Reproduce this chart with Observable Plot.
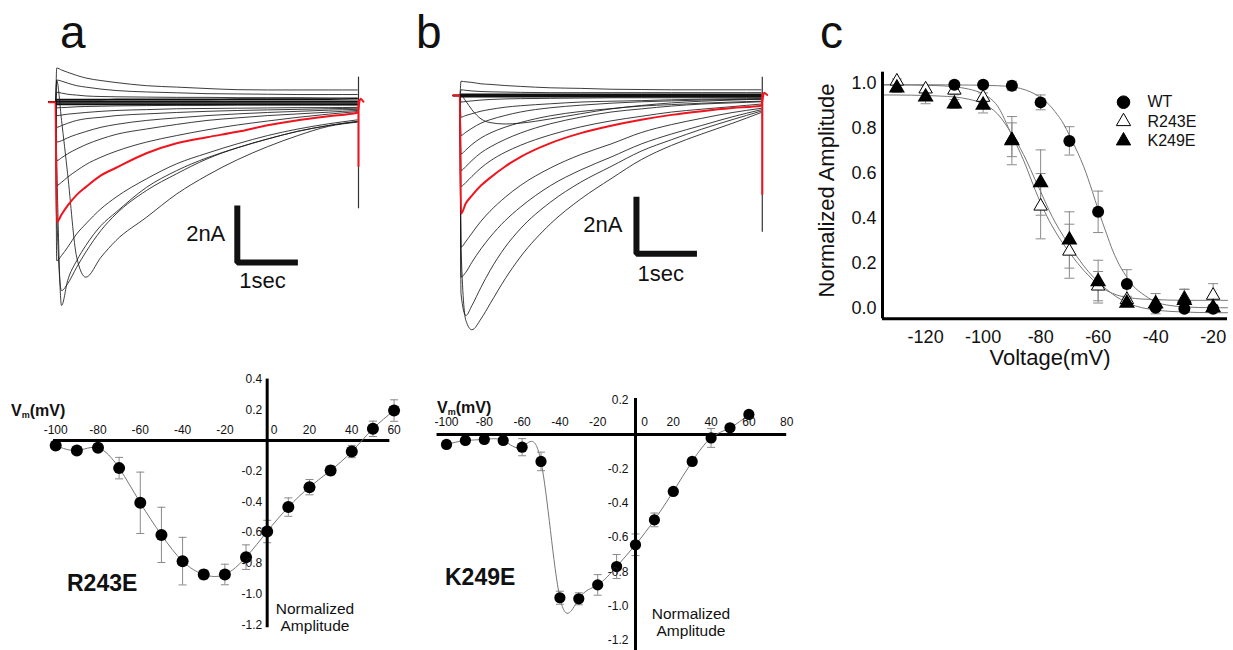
<!DOCTYPE html>
<html><head><meta charset="utf-8">
<script src="https://cdn.jsdelivr.net/npm/d3@7"></script>
<script src="https://cdn.jsdelivr.net/npm/@observablehq/plot@0.6"></script>
<style>
body{margin:0;background:#fff;}
#fig{position:relative;width:1233px;height:650px;overflow:hidden;background:#fff;font-family:"Liberation Sans",Arial,Helvetica,sans-serif;color:#111;}
#fig svg{position:absolute;overflow:visible;background:transparent;max-width:none;}
.lbl{position:absolute;white-space:nowrap;}
.letter{font-size:46px;line-height:46px;}
.vm{font-weight:bold;font-size:16px;line-height:18px;}
.vm sub{font-size:9px;vertical-align:-2px;}
.mut{font-weight:bold;font-size:23px;line-height:23px;}
.na{font-size:15.5px;line-height:16.7px;text-align:center;width:120px;}
</style></head><body><div id="fig"></div>
<script>
const fontStack = '"Liberation Sans", Arial, Helvetica, sans-serif';

// ---------------- Panels a & b : current traces (nA vs s) ----------------
const traceTimes = [0.02,0.1,0.2,0.35,0.5,0.75,1,1.5,2,2.5,3,3.5,4,4.5,4.98];
const preStepTimes = [-0.11, 0];
const holdingCurrent = 0;
const redTailTimes = [5.03, 5.08];
const stepEndTime = 5.0;

const aBlackTraces = [
  [1.20,1.13,1.05,0.94,0.85,0.76,0.69,0.58,0.53,0.48,0.44,0.43,0.43,0.43,0.43],
  [0.78,0.74,0.67,0.58,0.53,0.46,0.41,0.36,0.33,0.30,0.29,0.28,0.27,0.27,0.27],
  [0.35,0.32,0.28,0.25,0.22,0.20,0.19,0.18,0.17,0.17,0.16,0.16,0.16,0.15,0.15],
  [-0.20,-0.19,-0.18,-0.16,-0.15,-0.14,-0.13,-0.12,-0.11,-0.11,-0.10,-0.10,-0.10,-0.10,-0.10],
  [-0.47,-0.45,-0.42,-0.39,-0.36,-0.32,-0.29,-0.26,-0.23,-0.22,-0.21,-0.20,-0.19,-0.19,-0.18],
  [-0.88,-0.82,-0.74,-0.64,-0.58,-0.53,-0.47,-0.41,-0.36,-0.32,-0.29,-0.27,-0.25,-0.23,-0.21],
  [-1.40,-1.35,-1.25,-1.13,-1.03,-0.88,-0.78,-0.64,-0.55,-0.47,-0.41,-0.36,-0.32,-0.28,-0.25],
  [-2.05,-1.95,-1.81,-1.64,-1.49,-1.29,-1.13,-0.94,-0.78,-0.64,-0.55,-0.47,-0.41,-0.35,-0.29],
  [-2.92,-2.81,-2.63,-2.40,-2.19,-1.93,-1.72,-1.40,-1.17,-0.97,-0.80,-0.66,-0.53,-0.42,-0.33],
  [-5.56,-5.38,-5.09,-4.62,-4.27,-3.74,-3.33,-2.69,-2.16,-1.79,-1.46,-1.17,-0.94,-0.76,-0.62],
  [-3.80,-6.61,-6.37,-5.79,-5.26,-4.50,-3.92,-3.10,-2.51,-1.99,-1.60,-1.29,-1.02,-0.82,-0.67],
  [-2.05,-7.13,-6.26,-5.56,-5.03,-4.33,-3.86,-2.99,-2.40,-1.95,-1.60,-1.29,-1.02,-0.82,-0.68],
  [0.76,-0.64,-2.51,-5.44,-6.14,-5.44,-4.85,-4.04,-3.22,-2.57,-2.02,-1.56,-1.17,-0.85,-0.70]
];
// traces that sit on the holding level and form the thick baseline band
const aBaselineTraces = [
  [0.09,0.09,0.09,0.09,0.09,0.09,0.10,0.10,0.10,0.10,0.11,0.11,0.11,0.11,0.12],
  [0.03,0.03,0.03,0.03,0.03,0.03,0.03,0.03,0.03,0.03,0.03,0.03,0.03,0.03,0.03],
  [-0.03,-0.03,-0.03,-0.03,-0.03,-0.03,-0.03,-0.03,-0.03,-0.03,-0.03,-0.03,-0.03,-0.03,-0.03],
  [-0.08,-0.08,-0.08,-0.08,-0.08,-0.08,-0.08,-0.08,-0.08,-0.08,-0.08,-0.08,-0.08,-0.08,-0.08]
];
const aRedTrace = [-4.21,-3.94,-3.63,-3.25,-2.98,-2.57,-2.30,-1.79,-1.44,-1.23,-1.04,-0.81,-0.63,-0.49,-0.37];
const aRedTail = [0.12, 0.02];
const aSpikeBlack = [0.88, -3.74];
const aSpikeRed = [0.06, -2.28];

const bBlackTraces = [
  [0.50,0.48,0.46,0.41,0.39,0.35,0.32,0.27,0.25,0.22,0.21,0.20,0.20,0.20,0.20],
  [0.20,0.18,0.16,0.14,0.13,0.12,0.11,0.10,0.10,0.10,0.10,0.10,0.10,0.10,0.10],
  [0.00,-0.20,-0.50,-0.82,-0.95,-1.00,-0.97,-0.82,-0.64,-0.47,-0.35,-0.26,-0.20,-0.16,-0.13],
  [-0.23,-0.21,-0.19,-0.16,-0.14,-0.12,-0.11,-0.10,-0.09,-0.08,-0.08,-0.08,-0.08,-0.08,-0.08],
  [-0.76,-0.70,-0.64,-0.55,-0.49,-0.41,-0.36,-0.29,-0.23,-0.20,-0.18,-0.15,-0.13,-0.12,-0.11],
  [-1.40,-1.29,-1.15,-0.97,-0.85,-0.70,-0.58,-0.43,-0.34,-0.27,-0.22,-0.19,-0.16,-0.14,-0.13],
  [-2.05,-1.91,-1.72,-1.49,-1.32,-1.11,-0.95,-0.71,-0.56,-0.46,-0.37,-0.32,-0.27,-0.23,-0.20],
  [-2.63,-2.49,-2.28,-2.01,-1.81,-1.54,-1.32,-0.99,-0.76,-0.58,-0.47,-0.37,-0.30,-0.26,-0.22],
  [-3.19,-3.05,-2.84,-2.54,-2.30,-1.99,-1.75,-1.38,-1.10,-0.89,-0.73,-0.58,-0.48,-0.39,-0.30],
  [-5.32,-5.12,-4.83,-4.41,-4.06,-3.57,-3.16,-2.54,-2.07,-1.70,-1.30,-1.02,-0.80,-0.60,-0.45],
  [-6.37,-6.20,-5.85,-5.38,-4.97,-4.39,-3.92,-3.16,-2.61,-2.16,-1.70,-1.35,-1.05,-0.75,-0.50],
  [-6.96,-7.72,-7.37,-6.73,-6.14,-5.32,-4.68,-3.74,-3.04,-2.49,-1.95,-1.55,-1.18,-0.85,-0.55],
  [-5.32,-7.89,-8.22,-7.84,-7.31,-6.43,-5.67,-4.50,-3.63,-2.92,-2.25,-1.75,-1.35,-0.98,-0.60]
];
const bBaselineTraces = [
  [0.04,0.04,0.04,0.04,0.04,0.04,0.04,0.04,0.04,0.04,0.04,0.04,0.04,0.04,0.04],
  [0.00,0.00,0.00,0.00,0.00,0.00,0.00,0.00,0.00,0.00,0.00,0.00,0.00,0.00,0.00],
  [-0.04,-0.04,-0.04,-0.04,-0.04,-0.04,-0.04,-0.04,-0.04,-0.04,-0.04,-0.04,-0.04,-0.04,-0.04]
];
const bRedTrace = [-4.15,-3.78,-3.51,-3.16,-2.89,-2.49,-2.16,-1.67,-1.32,-1.06,-0.85,-0.68,-0.55,-0.44,-0.36];
const bRedTail = [0.10, 0.02];
const bSpikeBlack = [0.64, -4.80];
const bSpikeRed = [0.06, -3.50];

const scaleBarCurrent = 2;   // nA
const scaleBarTime = 1;      // s
const scaleBarLabels = ["2nA", "1sec"];

// ---------------- Panel c : normalized amplitude vs voltage ----------------
const voltC = [-130,-120,-110,-100,-90,-80,-70,-60,-50,-40,-30,-20];
const wtAmp    = [null,null,0.994,0.994,0.99,0.916,0.745,0.43,0.11,0.004,0.0,0.0];
const wtErr    = [null,null,0.01,0.01,0.02,0.033,0.063,0.092,0.063,0.01,0.005,0.01];
const r243eAmp = [1.01,0.975,0.97,0.938,0.75,0.455,0.255,0.10,0.04,0.02,0.045,0.059];
const r243eErr = [0.01,0.015,0.02,0.02,0.075,0.145,0.12,0.065,0.015,0.02,0.04,0.052];
const k249eAmp = [0.98,0.94,0.909,0.904,0.746,0.56,0.305,0.12,0.025,0.022,0.037,0.005];
const k249eErr = [0.02,0.03,0.02,0.035,0.107,0.145,0.125,0.095,0.01,0.045,0.05,0.01];

const fitVolt = [-135,-125,-115,-110,-105,-100,-95,-90,-87,-85,-82,-80,-77,-75,-72,-70,-67,-65,-62,-60,-57,-55,-52,-50,-47,-45,-40,-35,-30,-25,-20,-15];
const wtFit    = [0.994,0.994,0.994,0.993,0.993,0.992,0.990,0.985,0.978,0.970,0.953,0.937,0.905,0.875,0.82,0.77,0.69,0.63,0.52,0.44,0.33,0.26,0.18,0.14,0.09,0.07,0.03,0.014,0.008,0.005,0.004,0.004];
const r243eFit = [0.994,0.993,0.990,0.985,0.975,0.953,0.90,0.77,0.69,0.63,0.53,0.47,0.39,0.345,0.285,0.25,0.20,0.17,0.13,0.105,0.08,0.068,0.055,0.05,0.045,0.043,0.04,0.038,0.037,0.037,0.037,0.037];
const k249eFit = [0.949,0.948,0.944,0.94,0.93,0.91,0.865,0.775,0.71,0.66,0.575,0.52,0.435,0.385,0.32,0.28,0.225,0.19,0.145,0.12,0.085,0.065,0.04,0.028,0.012,0.005,-0.006,-0.012,-0.015,-0.017,-0.018,-0.018];

const xDomainC = [-135, -15];
const yDomainC = [-0.045, 1.05];
const xTicksC = [-120,-100,-80,-60,-40,-20];
const yTicksC = [0,0.2,0.4,0.6,0.8,1.0];
const legendLabels = ["WT", "R243E", "K249E"];
const legendFills = ["#000", "#fff", "#000"];
const legendSymbols = ["circle", "triangle", "triangle"];

// ---------------- I-V panels ----------------
const ivVolt = [-100,-90,-80,-70,-60,-50,-40,-30,-20,-10,0,10,20,30,40,50,60];
const r243eIV    = [-0.033,-0.065,-0.048,-0.18,-0.406,-0.615,-0.786,-0.873,-0.873,-0.76,-0.593,-0.434,-0.304,-0.195,-0.072,0.076,0.195];
const r243eIVErr = [0,0,0,0.07,0.2,0.18,0.155,0.03,0.067,0.08,0.073,0.06,0.05,0.03,0.04,0.05,0.07];
const k249eIV    = [-0.058,-0.035,-0.029,-0.035,-0.074,-0.157,-0.952,-0.958,-0.877,-0.77,-0.643,-0.498,-0.332,-0.157,-0.02,0.039,0.117];
const k249eIVErr = [0.02,0,0,0,0.05,0.054,0.038,0.035,0.06,0.07,0.063,0.04,0,0.02,0.055,0,0];
const r243eXTicks = [-100,-80,-60,-40,-20,0,20,40,60];
const r243eYTicks = [0.4,0.2,-0.2,-0.4,-0.6,-0.8,-1.0,-1.2];
const k249eXTicks = [-100,-80,-60,-40,-20,0,20,40,60,80];
const k249eYTicks = [0.2,-0.2,-0.4,-0.6,-0.8,-1.0,-1.2];
const r243eAxisV = [-101, 58], r243eAxisAmp = [-1.22, 0.40];
const k249eAxisV = [-105, 80], k249eAxisAmp = [-1.27, 0.21];

// ---------------- helpers ----------------
const fig = document.getElementById("fig");
function place(node, left, top) {
  node.style.position = "absolute";
  node.style.left = left + "px";
  node.style.top = top + "px";
  fig.appendChild(node);
}
function label(html, cls, left, top) {
  const d = document.createElement("div");
  d.className = "lbl " + cls;
  d.innerHTML = html;
  d.style.left = left + "px";
  d.style.top = top + "px";
  fig.appendChild(d);
}
const hline = {draw(ctx, size) { const r = Math.sqrt(size / Math.PI); ctx.moveTo(-r, 0); ctx.lineTo(r, 0); }};

function traceRows(values, k) {
  return [
    ...preStepTimes.map(t => ({t, i: holdingCurrent, k})),
    ...traceTimes.map((t, j) => ({t, i: values[j], k}))
  ];
}

function tracePanel({black, baseline, red, redTail, spikeBlack, spikeRed, xDomain, yDomain, width, height, bar, nALabel, secLabel}) {
  const blackRows = black.flatMap((v, k) => traceRows(v, k));
  const baseRows = baseline.flatMap((v, k) => traceRows(v, "b" + k));
  const redRows = [...traceRows(red, "red"), ...redTailTimes.map((t, j) => ({t, i: redTail[j]}))];
  const barRows = [
    {t: bar[0], i: bar[1] + scaleBarCurrent},
    {t: bar[0], i: bar[1]},
    {t: bar[0] + scaleBarTime, i: bar[1]}
  ];
  return Plot.plot({
    width, height, margin: 0, axis: null,
    x: {domain: xDomain}, y: {domain: yDomain},
    style: {fontFamily: fontStack, background: "transparent", overflow: "visible"},
    marks: [
      Plot.line(blackRows, {x: "t", y: "i", z: "k", stroke: "#1a1a1a", strokeWidth: 0.85, curve: "monotone-x"}),
      Plot.line(baseRows, {x: "t", y: "i", z: "k", stroke: "#111", strokeWidth: 1.6, curve: "monotone-x"}),
      Plot.ruleX([stepEndTime], {y1: spikeBlack[0], y2: spikeBlack[1], stroke: "#333", strokeWidth: 1.2}),
      Plot.line(redRows, {x: "t", y: "i", stroke: "#f0141e", strokeWidth: 2, curve: "monotone-x"}),
      Plot.ruleX([stepEndTime], {y1: spikeRed[0], y2: spikeRed[1], stroke: "#f0141e", strokeWidth: 2}),
      Plot.line(barRows, {x: "t", y: "i", stroke: "#111", strokeWidth: 6, strokeLinejoin: "miter", strokeLinecap: "butt"}),
      Plot.text([scaleBarLabels[0]], {x: bar[0], y: bar[1] + scaleBarCurrent / 2, dx: nALabel[0], dy: nALabel[1], textAnchor: "end", fontSize: 22, fill: "#111"}),
      Plot.text([scaleBarLabels[1]], {x: bar[0] + scaleBarTime / 2, y: bar[1], dx: secLabel[0], dy: secLabel[1], fontSize: 22, fill: "#111"})
    ]
  });
}

// Panel a
place(tracePanel({
  black: aBlackTraces, baseline: aBaselineTraces, red: aRedTrace, redTail: aRedTail, spikeBlack: aSpikeBlack, spikeRed: aSpikeRed,
  xDomain: [-0.2475, 5.363], yDomain: [-7.484, 1.639], width: 340, height: 260,
  bar: [3.0, -5.62], nALabel: [-12, 0], secLabel: [-5, 19]
}), 40, 55);

// Panel b
place(tracePanel({
  black: bBlackTraces, baseline: bBaselineTraces, red: bRedTrace, redTail: bRedTail, spikeBlack: bSpikeBlack, spikeRed: bSpikeRed,
  xDomain: [-0.319, 5.301], yDomain: [-8.596, 1.579], width: 340, height: 290,
  bar: [2.92, -5.55], nALabel: [-14, 0], secLabel: [-6, 20]
}), 440, 50);

// Panel c
function cRows(amp, err) {
  return voltC.map((v, k) => ({v, y: amp[k], e: err[k]})).filter(d => d.y != null);
}
const wtRows = cRows(wtAmp, wtErr), rRows = cRows(r243eAmp, r243eErr), kRows = cRows(k249eAmp, k249eErr);
const allErr = [...wtRows, ...rRows, ...kRows];
const fitRows = (vals) => fitVolt.map((v, k) => ({v, y: vals[k]}));
const legendMarks = legendLabels.flatMap((name, k) => [
  Plot.dot([name], {frameAnchor: "top-left", dx: 241, dy: 30 + k * 19.3, symbol: legendSymbols[k], r: k === 0 ? 6.3 : 5.3, fill: legendFills[k], stroke: "#000", strokeWidth: 1}),
  Plot.text([name], {frameAnchor: "top-left", dx: 265, dy: 30 + k * 19.3, text: d => d, textAnchor: "start", lineAnchor: "middle", fontSize: 16, fill: "#111"})
]);
place(Plot.plot({
  width: 433, height: 320, marginLeft: 82, marginRight: 6, marginTop: 11.7, marginBottom: 61.7,
  x: {domain: xDomainC}, y: {domain: yDomainC},
  style: {fontFamily: fontStack, background: "transparent", overflow: "visible"},
  marks: [
    Plot.ruleX(allErr, {x: "v", y1: d => d.y - d.e, y2: d => d.y + d.e, stroke: "#8a8a8a", strokeWidth: 1}),
    Plot.dot(allErr, {x: "v", y: d => d.y + d.e, symbol: hline, r: 5, fill: "none", stroke: "#8a8a8a", strokeWidth: 1}),
    Plot.dot(allErr, {x: "v", y: d => d.y - d.e, symbol: hline, r: 5, fill: "none", stroke: "#8a8a8a", strokeWidth: 1}),
    Plot.line(fitRows(wtFit), {x: "v", y: "y", stroke: "#777", strokeWidth: 1, curve: "monotone-x"}),
    Plot.line(fitRows(r243eFit), {x: "v", y: "y", stroke: "#777", strokeWidth: 1, curve: "monotone-x"}),
    Plot.line(fitRows(k249eFit), {x: "v", y: "y", stroke: "#777", strokeWidth: 1, curve: "monotone-x"}),
    Plot.dot(rRows, {x: "v", y: "y", symbol: "triangle", r: 5, fill: "#fff", stroke: "#000", strokeWidth: 1}),
    Plot.dot(kRows, {x: "v", y: "y", symbol: "triangle", r: 5, fill: "#000", stroke: "#000"}),
    Plot.dot(wtRows, {x: "v", y: "y", r: 6, fill: "#000"}),
    Plot.ruleX([xDomainC[0]], {stroke: "#000", strokeWidth: 3}),
    Plot.ruleY([yDomainC[0]], {stroke: "#000", strokeWidth: 3}),
    Plot.axisX({ticks: xTicksC, tickSize: 0, tickPadding: 11, tickFormat: d => String(d), fontSize: 18, label: null}),
    Plot.axisY({ticks: yTicksC, tickSize: 0, tickPadding: 6, tickFormat: d => d.toFixed(1), fontSize: 18, label: null}),
    Plot.text(["Voltage(mV)"], {frameAnchor: "bottom", textAnchor: "middle", dx: -5, dy: 38.7, lineAnchor: "middle", fontSize: 22, fill: "#111"}),
    Plot.text(["Normalized Amplitude"], {frameAnchor: "left", textAnchor: "middle", dx: -56, dy: -5, rotate: -90, lineAnchor: "middle", fontSize: 22, fill: "#111"}),
    ...legendMarks
  ]
}), 800, 60);

// I-V panels
function ivPanel({volts, amps, errs, xDomain, yDomain, width, height, axisV, axisAmp, xTicks, yTicks, xLabelDy, yLabelDx, zeroDx, capR, dotR}) {
  const rows = volts.map((v, k) => ({v, a: amps[k], e: errs[k]}));
  const withErr = rows.filter(d => d.e > 0);
  return Plot.plot({
    width, height, margin: 0, axis: null,
    x: {domain: xDomain}, y: {domain: yDomain},
    style: {fontFamily: fontStack, background: "transparent", overflow: "visible"},
    marks: [
      Plot.ruleX(withErr, {x: "v", y1: d => d.a - d.e, y2: d => d.a + d.e, stroke: "#8a8a8a", strokeWidth: 1}),
      Plot.dot(withErr, {x: "v", y: d => d.a + d.e, symbol: hline, r: capR, fill: "none", stroke: "#8a8a8a", strokeWidth: 1}),
      Plot.dot(withErr, {x: "v", y: d => d.a - d.e, symbol: hline, r: capR, fill: "none", stroke: "#8a8a8a", strokeWidth: 1}),
      Plot.ruleY([0], {x1: axisV[0], x2: axisV[1], stroke: "#000", strokeWidth: 3}),
      Plot.ruleX([0], {y1: axisAmp[0], y2: axisAmp[1], stroke: "#000", strokeWidth: 3}),
      Plot.line(rows, {x: "v", y: "a", curve: "natural", stroke: "#777", strokeWidth: 1}),
      Plot.dot(rows, {x: "v", y: "a", r: dotR, fill: "#000"}),
      Plot.text(xTicks.filter(v => v !== 0), {x: d => d, y: 0, dy: xLabelDy, text: d => String(d), fontSize: 12, fill: "#111"}),
      Plot.text(xTicks.filter(v => v === 0), {x: d => d, y: 0, dx: zeroDx, dy: xLabelDy, text: d => String(d), fontSize: 12, fill: "#111"}),
      Plot.text(yTicks, {x: 0, y: d => d, dx: yLabelDx, textAnchor: "end", text: d => d.toFixed(1), fontSize: 12, fill: "#111"})
    ]
  });
}

place(ivPanel({
  volts: ivVolt, amps: r243eIV, errs: r243eIVErr,
  xDomain: [-126.1, 72.5], yDomain: [-1.303, 0.456], width: 420, height: 270,
  axisV: r243eAxisV, axisAmp: r243eAxisAmp, xTicks: r243eXTicks, yTicks: r243eYTicks,
  xLabelDy: -10, yLabelDx: -5, zeroDx: 7, capR: 4, dotR: 6
}), 0, 370);

place(ivPanel({
  volts: ivVolt, amps: k249eIV, errs: k249eIVErr,
  xDomain: [-113.76, 92.6], yDomain: [-1.2595, 0.2857], width: 390, height: 265,
  axisV: k249eAxisV, axisAmp: k249eAxisAmp, xTicks: k249eXTicks, yTicks: k249eYTicks,
  xLabelDy: -12, yLabelDx: -7, zeroDx: 9, capR: 4, dotR: 5.6
}), 420, 385);

// text labels
label("a", "letter", 60, 9);
label("b", "letter", 416, 9);
label("c", "letter", 820, 9);
label("V<sub>m</sub>(mV)", "vm", 11, 402);
label("V<sub>m</sub>(mV)", "vm", 437, 399);
label("R243E", "mut", 67, 572);
label("K249E", "mut", 445, 566);
label("Normalized<br>Amplitude", "na", 255, 601);
label("Normalized<br>Amplitude", "na", 631, 606);
</script></body></html>
